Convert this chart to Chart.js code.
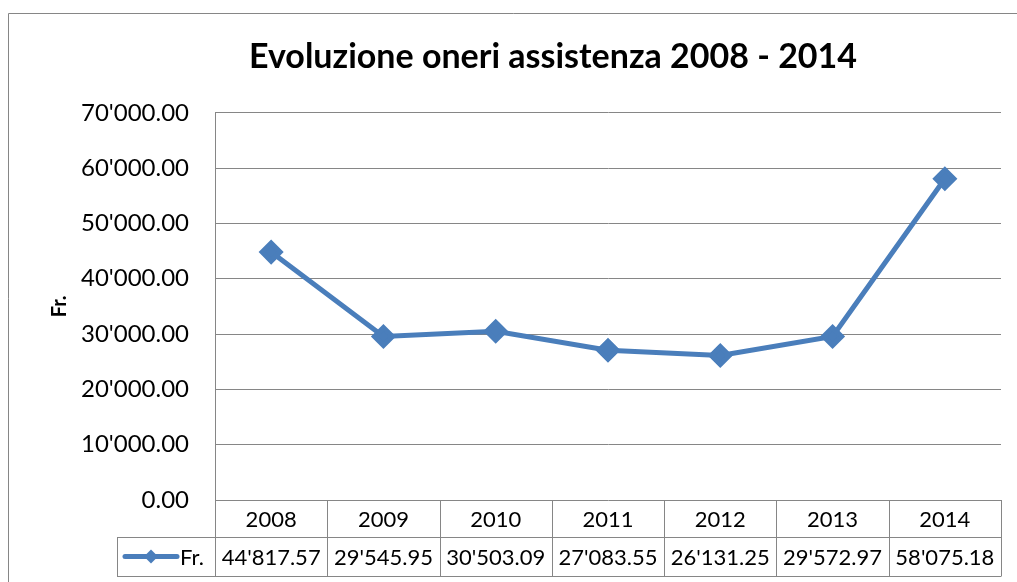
<!DOCTYPE html>
<html>
<head>
<meta charset="utf-8">
<script src="https://cdn.jsdelivr.net/npm/chart.js@4"></script>
<style>
  body { margin: 0; background: #fff; }
  canvas { display: block; }
</style>
</head>
<body>
<canvas id="chart" width="1017" height="582"></canvas>
<script>
// anni e valori (Fr.)
const years = ['2008', '2009', '2010', '2011', '2012', '2013', '2014'];
const oneri = [44817.57, 29545.95, 30503.09, 27083.55, 26131.25, 29572.97, 58075.18];
const seriesName = 'Fr.';
const yMin = 0;
const yMax = 70000;
const yStep = 10000;

const BLUE = '#4A7EBB';
const GRID = '#868686';
const FONT = 'Lato, Carlito, Calibri, sans-serif';

// formato svizzero: 44'817.57
function fmt(v) {
    const parts = v.toFixed(2).split('.');
    parts[0] = parts[0].replace(/\B(?=(\d{3})+(?!\d))/g, "'");
    return parts.join('.');
}

// il titolo nell'originale e' centrato un po' piu a destra
const titleShift = {
    id: 'titleShift',
    afterLayout(chart) {
        if (chart.titleBlock) chart.titleBlock.left = 105;
    }
};

// tabella dati sotto il grafico + bordo esterno
const tablePlugin = {
    id: 'dataTable',
    afterDraw(chart) {
        const ctx = chart.ctx;
        const x = chart.scales.x;
        const area = chart.chartArea;
        const half = (x.right - x.left) / (2 * years.length);
        const r0 = area.bottom, r1 = r0 + 37, r2 = r1 + 39;
        const legLeft = 117;

        ctx.save();
        ctx.strokeStyle = GRID;
        ctx.lineWidth = 1;
        ctx.beginPath();
        // righe orizzontali
        ctx.moveTo(legLeft, r1 + 0.5); ctx.lineTo(x.right, r1 + 0.5);
        ctx.moveTo(legLeft, r2 + 0.5); ctx.lineTo(x.right, r2 + 0.5);
        // colonne
        for (let i = 0; i <= years.length; i++) {
            const px = Math.round(x.left + i * 2 * half) + 0.5;
            ctx.moveTo(px, r0); ctx.lineTo(px, r2 + 0.5);
        }
        ctx.moveTo(legLeft + 0.5, r1); ctx.lineTo(legLeft + 0.5, r2 + 0.5);
        // bordo esterno
        ctx.rect(8.5, 13.5, 1100, 700);
        ctx.stroke();

        // testi
        ctx.fillStyle = '#000';
        ctx.font = '22px ' + FONT;
        ctx.textAlign = 'center';
        ctx.textBaseline = 'middle';
        years.forEach((y, i) => {
            const cx = x.getPixelForValue(i);
            ctx.fillText(y, cx, (r0 + r1) / 2 + 1);
            ctx.fillText(fmt(oneri[i]), cx, (r1 + r2) / 2 + 1);
        });

        // chiave della legenda
        const ly = (r1 + r2) / 2;
        ctx.strokeStyle = BLUE;
        ctx.lineWidth = 5;
        ctx.lineCap = 'round';
        ctx.beginPath();
        ctx.moveTo(125, ly); ctx.lineTo(177, ly);
        ctx.stroke();
        ctx.fillStyle = BLUE;
        ctx.beginPath();
        ctx.moveTo(151, ly - 7); ctx.lineTo(158, ly); ctx.lineTo(151, ly + 7); ctx.lineTo(144, ly);
        ctx.closePath();
        ctx.fill();
        ctx.fillStyle = '#000';
        ctx.textAlign = 'left';
        ctx.fillText(seriesName, 180, ly + 1);
        ctx.restore();
    }
};

new Chart(document.getElementById('chart'), {
    type: 'line',
    data: {
        labels: years,
        datasets: [{
            label: seriesName,
            data: oneri,
            borderColor: BLUE,
            backgroundColor: BLUE,
            borderWidth: 5,
            pointStyle: 'rectRot',
            pointRadius: 9,
            pointBackgroundColor: BLUE,
            pointBorderColor: BLUE,
            tension: 0
        }]
    },
    options: {
        responsive: false,
        animation: false,
        layout: { padding: { left: 0, right: 16, top: 0, bottom: 0 } },
        plugins: {
            legend: { display: false },
            tooltip: { enabled: false },
            title: {
                display: true,
                text: 'Evoluzione oneri assistenza 2008 - 2014',
                color: '#000',
                font: { family: FONT, size: 34, weight: 'bold', lineHeight: 1.2 },
                padding: { top: 37, bottom: 35 }
            }
        },
        scales: {
            x: {
                offset: true,
                grid: { display: false },
                border: { display: false },
                ticks: { display: false },
                afterFit(s) { s.height = 82; }
            },
            y: {
                min: yMin,
                max: yMax,
                ticks: {
                    stepSize: yStep,
                    color: '#000',
                    padding: 26,
                    font: { family: FONT, size: 24 },
                    callback: v => fmt(v)
                },
                grid: { color: GRID, drawTicks: false },
                border: { color: GRID },
                title: {
                    display: true,
                    text: seriesName,
                    color: '#000',
                    font: { family: FONT, size: 20, weight: 'bold', lineHeight: 1.2 },
                    padding: { top: 48, bottom: 0 }
                },
                afterFit(s) { s.width = 215; }
            }
        }
    },
    plugins: [titleShift, tablePlugin]
});
</script>
</body>
</html>
